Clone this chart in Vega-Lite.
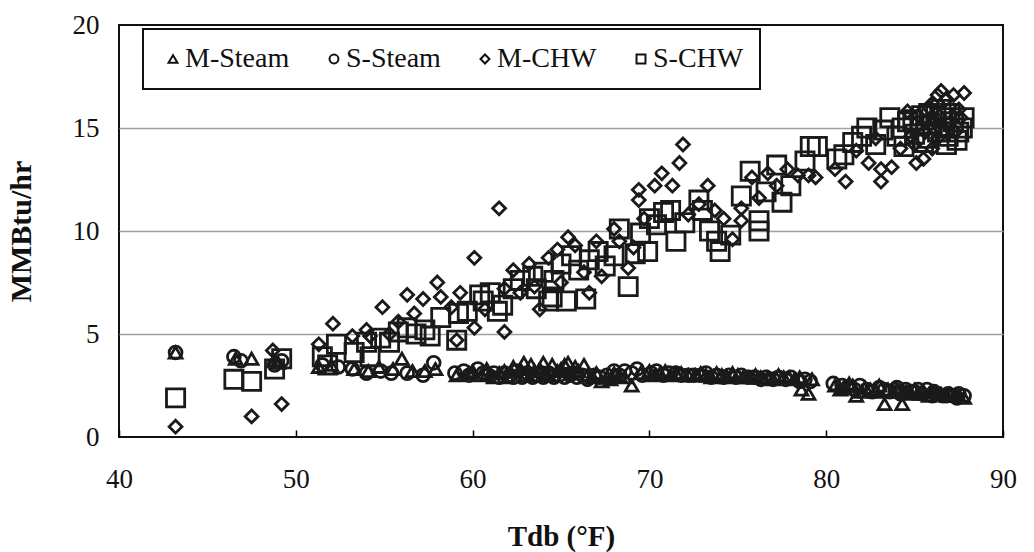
{
  "$schema": "https://vega.github.io/schema/vega-lite/v6.json",
  "width": 884,
  "height": 412,
  "autosize": "none",
  "padding": {"left": 119, "top": 25, "right": 31, "bottom": 115},
  "background": "white",
  "data": {
    "values": [
      {"series":"M-Steam","T":43.2,"Q":4.1},{"series":"M-Steam","T":46.6,"Q":3.8},{"series":"M-Steam","T":47.5,"Q":3.8},{"series":"M-Steam","T":48.8,"Q":3.7},{"series":"M-Steam","T":49.0,"Q":3.6},{"series":"M-Steam","T":51.3,"Q":3.4},{"series":"M-Steam","T":52.0,"Q":3.5},{"series":"M-Steam","T":53.3,"Q":3.3},{"series":"M-Steam","T":54.1,"Q":3.2},{"series":"M-Steam","T":54.7,"Q":3.4},{"series":"M-Steam","T":55.5,"Q":3.3},{"series":"M-Steam","T":56.0,"Q":3.8},{"series":"M-Steam","T":56.6,"Q":3.2},{"series":"M-Steam","T":57.3,"Q":3.2},{"series":"M-Steam","T":57.9,"Q":3.3},{"series":"M-Steam","T":59.1,"Q":3.0},{"series":"M-Steam","T":59.8,"Q":3.1},{"series":"M-Steam","T":60.0,"Q":3.2},{"series":"M-Steam","T":60.5,"Q":3.0},{"series":"M-Steam","T":60.8,"Q":3.3},{"series":"M-Steam","T":61.2,"Q":2.9},{"series":"M-Steam","T":61.5,"Q":3.1},{"series":"M-Steam","T":61.8,"Q":3.2},{"series":"M-Steam","T":62.0,"Q":2.9},{"series":"M-Steam","T":62.3,"Q":3.4},{"series":"M-Steam","T":62.7,"Q":3.3},{"series":"M-Steam","T":62.9,"Q":3.6},{"series":"M-Steam","T":63.0,"Q":3.0},{"series":"M-Steam","T":63.3,"Q":3.5},{"series":"M-Steam","T":63.5,"Q":3.2},{"series":"M-Steam","T":63.8,"Q":3.3},{"series":"M-Steam","T":64.0,"Q":3.6},{"series":"M-Steam","T":64.2,"Q":3.0},{"series":"M-Steam","T":64.5,"Q":3.5},{"series":"M-Steam","T":64.8,"Q":3.2},{"series":"M-Steam","T":65.0,"Q":3.3},{"series":"M-Steam","T":65.2,"Q":3.5},{"series":"M-Steam","T":65.4,"Q":3.6},{"series":"M-Steam","T":65.6,"Q":3.1},{"series":"M-Steam","T":65.8,"Q":3.4},{"series":"M-Steam","T":66.0,"Q":3.2},{"series":"M-Steam","T":66.3,"Q":3.5},{"series":"M-Steam","T":66.5,"Q":3.0},{"series":"M-Steam","T":66.8,"Q":2.9},{"series":"M-Steam","T":67.0,"Q":3.1},{"series":"M-Steam","T":67.3,"Q":2.7},{"series":"M-Steam","T":67.6,"Q":2.9},{"series":"M-Steam","T":67.8,"Q":2.8},{"series":"M-Steam","T":68.0,"Q":3.1},{"series":"M-Steam","T":68.3,"Q":3.0},{"series":"M-Steam","T":68.6,"Q":2.9},{"series":"M-Steam","T":69.0,"Q":2.5},{"series":"M-Steam","T":69.5,"Q":3.1},{"series":"M-Steam","T":70.0,"Q":3.2},{"series":"M-Steam","T":70.3,"Q":3.0},{"series":"M-Steam","T":70.6,"Q":3.1},{"series":"M-Steam","T":70.9,"Q":3.2},{"series":"M-Steam","T":71.2,"Q":3.0},{"series":"M-Steam","T":71.5,"Q":3.1},{"series":"M-Steam","T":71.8,"Q":3.1},{"series":"M-Steam","T":72.2,"Q":3.0},{"series":"M-Steam","T":72.6,"Q":3.0},{"series":"M-Steam","T":72.9,"Q":3.1},{"series":"M-Steam","T":73.2,"Q":3.0},{"series":"M-Steam","T":73.5,"Q":2.9},{"series":"M-Steam","T":73.8,"Q":3.1},{"series":"M-Steam","T":74.1,"Q":3.0},{"series":"M-Steam","T":74.4,"Q":2.9},{"series":"M-Steam","T":74.7,"Q":3.1},{"series":"M-Steam","T":75.0,"Q":3.0},{"series":"M-Steam","T":75.3,"Q":2.9},{"series":"M-Steam","T":75.6,"Q":2.9},{"series":"M-Steam","T":76.0,"Q":3.0},{"series":"M-Steam","T":76.3,"Q":2.9},{"series":"M-Steam","T":76.7,"Q":2.9},{"series":"M-Steam","T":77.0,"Q":2.8},{"series":"M-Steam","T":77.3,"Q":3.0},{"series":"M-Steam","T":77.6,"Q":2.9},{"series":"M-Steam","T":77.9,"Q":2.9},{"series":"M-Steam","T":78.2,"Q":2.8},{"series":"M-Steam","T":78.5,"Q":2.9},{"series":"M-Steam","T":78.6,"Q":2.3},{"series":"M-Steam","T":79.0,"Q":2.1},{"series":"M-Steam","T":79.2,"Q":2.8},{"series":"M-Steam","T":80.5,"Q":2.5},{"series":"M-Steam","T":80.8,"Q":2.3},{"series":"M-Steam","T":81.0,"Q":2.4},{"series":"M-Steam","T":81.3,"Q":2.6},{"series":"M-Steam","T":81.5,"Q":2.5},{"series":"M-Steam","T":81.7,"Q":2.0},{"series":"M-Steam","T":82.0,"Q":2.2},{"series":"M-Steam","T":82.2,"Q":2.4},{"series":"M-Steam","T":82.5,"Q":2.3},{"series":"M-Steam","T":82.8,"Q":2.2},{"series":"M-Steam","T":83.0,"Q":2.5},{"series":"M-Steam","T":83.3,"Q":1.6},{"series":"M-Steam","T":83.5,"Q":2.3},{"series":"M-Steam","T":83.8,"Q":2.2},{"series":"M-Steam","T":84.0,"Q":2.3},{"series":"M-Steam","T":84.3,"Q":1.6},{"series":"M-Steam","T":84.5,"Q":2.2},{"series":"M-Steam","T":84.8,"Q":2.1},{"series":"M-Steam","T":85.0,"Q":2.3},{"series":"M-Steam","T":85.3,"Q":2.1},{"series":"M-Steam","T":85.5,"Q":2.2},{"series":"M-Steam","T":85.8,"Q":2.0},{"series":"M-Steam","T":86.0,"Q":2.2},{"series":"M-Steam","T":86.3,"Q":2.1},{"series":"M-Steam","T":86.5,"Q":2.1},{"series":"M-Steam","T":86.8,"Q":2.0},{"series":"M-Steam","T":87.0,"Q":2.1},{"series":"M-Steam","T":87.3,"Q":2.0},{"series":"M-Steam","T":87.5,"Q":2.0},{"series":"M-Steam","T":87.8,"Q":1.9},
      {"series":"S-Steam","T":43.2,"Q":4.1},{"series":"S-Steam","T":46.5,"Q":3.9},{"series":"S-Steam","T":46.9,"Q":3.7},{"series":"S-Steam","T":48.8,"Q":3.5},{"series":"S-Steam","T":49.2,"Q":3.7},{"series":"S-Steam","T":51.5,"Q":3.5},{"series":"S-Steam","T":52.4,"Q":3.4},{"series":"S-Steam","T":53.2,"Q":3.3},{"series":"S-Steam","T":54.0,"Q":3.1},{"series":"S-Steam","T":54.8,"Q":3.2},{"series":"S-Steam","T":55.4,"Q":3.1},{"series":"S-Steam","T":56.3,"Q":3.1},{"series":"S-Steam","T":57.2,"Q":3.0},{"series":"S-Steam","T":57.8,"Q":3.6},{"series":"S-Steam","T":59.0,"Q":3.1},{"series":"S-Steam","T":59.5,"Q":3.2},{"series":"S-Steam","T":59.8,"Q":3.0},{"series":"S-Steam","T":60.3,"Q":3.3},{"series":"S-Steam","T":60.6,"Q":3.1},{"series":"S-Steam","T":60.9,"Q":3.0},{"series":"S-Steam","T":61.2,"Q":3.1},{"series":"S-Steam","T":61.5,"Q":2.9},{"series":"S-Steam","T":61.8,"Q":3.1},{"series":"S-Steam","T":62.1,"Q":3.0},{"series":"S-Steam","T":62.3,"Q":2.9},{"series":"S-Steam","T":62.5,"Q":3.2},{"series":"S-Steam","T":62.8,"Q":2.9},{"series":"S-Steam","T":63.1,"Q":3.1},{"series":"S-Steam","T":63.4,"Q":2.9},{"series":"S-Steam","T":63.7,"Q":3.0},{"series":"S-Steam","T":63.9,"Q":3.1},{"series":"S-Steam","T":64.0,"Q":2.9},{"series":"S-Steam","T":64.3,"Q":3.1},{"series":"S-Steam","T":64.6,"Q":2.9},{"series":"S-Steam","T":64.9,"Q":3.0},{"series":"S-Steam","T":65.2,"Q":2.9},{"series":"S-Steam","T":65.5,"Q":3.0},{"series":"S-Steam","T":65.7,"Q":3.1},{"series":"S-Steam","T":65.9,"Q":2.9},{"series":"S-Steam","T":66.2,"Q":3.0},{"series":"S-Steam","T":66.5,"Q":2.8},{"series":"S-Steam","T":66.9,"Q":3.0},{"series":"S-Steam","T":67.2,"Q":2.9},{"series":"S-Steam","T":67.6,"Q":3.0},{"series":"S-Steam","T":68.0,"Q":3.2},{"series":"S-Steam","T":68.3,"Q":3.0},{"series":"S-Steam","T":68.6,"Q":3.2},{"series":"S-Steam","T":69.0,"Q":3.1},{"series":"S-Steam","T":69.3,"Q":3.3},{"series":"S-Steam","T":69.6,"Q":3.0},{"series":"S-Steam","T":70.1,"Q":3.1},{"series":"S-Steam","T":70.4,"Q":3.2},{"series":"S-Steam","T":70.8,"Q":3.0},{"series":"S-Steam","T":71.1,"Q":3.1},{"series":"S-Steam","T":71.5,"Q":3.1},{"series":"S-Steam","T":71.8,"Q":3.0},{"series":"S-Steam","T":72.2,"Q":3.0},{"series":"S-Steam","T":72.5,"Q":3.0},{"series":"S-Steam","T":72.9,"Q":3.0},{"series":"S-Steam","T":73.2,"Q":3.1},{"series":"S-Steam","T":73.5,"Q":2.9},{"series":"S-Steam","T":73.8,"Q":3.0},{"series":"S-Steam","T":74.2,"Q":2.9},{"series":"S-Steam","T":74.5,"Q":3.0},{"series":"S-Steam","T":74.9,"Q":2.9},{"series":"S-Steam","T":75.2,"Q":3.0},{"series":"S-Steam","T":75.6,"Q":2.9},{"series":"S-Steam","T":75.9,"Q":2.9},{"series":"S-Steam","T":76.0,"Q":2.9},{"series":"S-Steam","T":76.3,"Q":2.8},{"series":"S-Steam","T":76.6,"Q":2.9},{"series":"S-Steam","T":77.0,"Q":2.8},{"series":"S-Steam","T":77.3,"Q":2.9},{"series":"S-Steam","T":77.7,"Q":2.8},{"series":"S-Steam","T":78.0,"Q":2.9},{"series":"S-Steam","T":78.5,"Q":2.7},{"series":"S-Steam","T":78.8,"Q":2.8},{"series":"S-Steam","T":79.1,"Q":2.7},{"series":"S-Steam","T":80.4,"Q":2.6},{"series":"S-Steam","T":80.9,"Q":2.5},{"series":"S-Steam","T":81.2,"Q":2.4},{"series":"S-Steam","T":81.6,"Q":2.3},{"series":"S-Steam","T":81.9,"Q":2.5},{"series":"S-Steam","T":82.3,"Q":2.3},{"series":"S-Steam","T":82.6,"Q":2.2},{"series":"S-Steam","T":83.0,"Q":2.4},{"series":"S-Steam","T":83.3,"Q":2.3},{"series":"S-Steam","T":83.6,"Q":2.2},{"series":"S-Steam","T":83.9,"Q":2.3},{"series":"S-Steam","T":84.0,"Q":2.4},{"series":"S-Steam","T":84.2,"Q":2.1},{"series":"S-Steam","T":84.5,"Q":2.3},{"series":"S-Steam","T":84.8,"Q":2.2},{"series":"S-Steam","T":85.0,"Q":2.2},{"series":"S-Steam","T":85.2,"Q":2.3},{"series":"S-Steam","T":85.4,"Q":2.1},{"series":"S-Steam","T":85.7,"Q":2.3},{"series":"S-Steam","T":86.0,"Q":2.0},{"series":"S-Steam","T":86.1,"Q":2.2},{"series":"S-Steam","T":86.3,"Q":2.1},{"series":"S-Steam","T":86.6,"Q":2.0},{"series":"S-Steam","T":86.8,"Q":2.0},{"series":"S-Steam","T":86.9,"Q":2.1},{"series":"S-Steam","T":87.2,"Q":2.0},{"series":"S-Steam","T":87.4,"Q":1.9},{"series":"S-Steam","T":87.5,"Q":2.1},{"series":"S-Steam","T":87.8,"Q":2.0},
      {"series":"M-CHW","T":43.2,"Q":0.5},{"series":"M-CHW","T":47.5,"Q":1.0},{"series":"M-CHW","T":48.7,"Q":4.2},{"series":"M-CHW","T":49.2,"Q":1.6},{"series":"M-CHW","T":51.3,"Q":4.5},{"series":"M-CHW","T":52.1,"Q":5.5},{"series":"M-CHW","T":53.2,"Q":4.9},{"series":"M-CHW","T":54.0,"Q":5.2},{"series":"M-CHW","T":54.2,"Q":4.9},{"series":"M-CHW","T":54.9,"Q":6.3},{"series":"M-CHW","T":55.3,"Q":5.0},{"series":"M-CHW","T":55.8,"Q":5.6},{"series":"M-CHW","T":56.3,"Q":6.9},{"series":"M-CHW","T":56.7,"Q":6.0},{"series":"M-CHW","T":57.2,"Q":6.7},{"series":"M-CHW","T":58.0,"Q":7.5},{"series":"M-CHW","T":58.2,"Q":6.8},{"series":"M-CHW","T":58.8,"Q":6.3},{"series":"M-CHW","T":59.1,"Q":4.7},{"series":"M-CHW","T":59.3,"Q":7.0},{"series":"M-CHW","T":60.1,"Q":8.7},{"series":"M-CHW","T":60.1,"Q":5.3},{"series":"M-CHW","T":60.7,"Q":6.2},{"series":"M-CHW","T":61.5,"Q":11.1},{"series":"M-CHW","T":61.8,"Q":5.1},{"series":"M-CHW","T":61.8,"Q":7.2},{"series":"M-CHW","T":62.3,"Q":8.1},{"series":"M-CHW","T":62.7,"Q":7.0},{"series":"M-CHW","T":63.2,"Q":8.4},{"series":"M-CHW","T":63.5,"Q":7.3},{"series":"M-CHW","T":63.8,"Q":6.2},{"series":"M-CHW","T":64.3,"Q":8.7},{"series":"M-CHW","T":64.8,"Q":9.1},{"series":"M-CHW","T":65.0,"Q":7.5},{"series":"M-CHW","T":65.4,"Q":9.7},{"series":"M-CHW","T":65.8,"Q":9.3},{"series":"M-CHW","T":66.3,"Q":8.0},{"series":"M-CHW","T":66.6,"Q":7.0},{"series":"M-CHW","T":67.0,"Q":9.5},{"series":"M-CHW","T":67.3,"Q":7.8},{"series":"M-CHW","T":68.0,"Q":10.1},{"series":"M-CHW","T":68.3,"Q":9.5},{"series":"M-CHW","T":68.8,"Q":8.2},{"series":"M-CHW","T":69.1,"Q":9.2},{"series":"M-CHW","T":69.4,"Q":12.0},{"series":"M-CHW","T":69.4,"Q":11.5},{"series":"M-CHW","T":69.7,"Q":10.6},{"series":"M-CHW","T":70.3,"Q":12.2},{"series":"M-CHW","T":70.7,"Q":12.8},{"series":"M-CHW","T":71.3,"Q":12.2},{"series":"M-CHW","T":71.7,"Q":13.3},{"series":"M-CHW","T":71.9,"Q":14.2},{"series":"M-CHW","T":72.2,"Q":10.8},{"series":"M-CHW","T":72.8,"Q":11.3},{"series":"M-CHW","T":73.3,"Q":12.2},{"series":"M-CHW","T":73.7,"Q":11.0},{"series":"M-CHW","T":74.2,"Q":10.6},{"series":"M-CHW","T":74.7,"Q":9.6},{"series":"M-CHW","T":75.2,"Q":11.1},{"series":"M-CHW","T":75.2,"Q":10.5},{"series":"M-CHW","T":75.8,"Q":12.6},{"series":"M-CHW","T":76.2,"Q":11.6},{"series":"M-CHW","T":76.7,"Q":12.8},{"series":"M-CHW","T":77.2,"Q":12.2},{"series":"M-CHW","T":77.8,"Q":13.0},{"series":"M-CHW","T":78.4,"Q":12.7},{"series":"M-CHW","T":79.0,"Q":12.7},{"series":"M-CHW","T":79.4,"Q":12.6},{"series":"M-CHW","T":80.5,"Q":13.0},{"series":"M-CHW","T":81.1,"Q":12.4},{"series":"M-CHW","T":81.7,"Q":13.9},{"series":"M-CHW","T":82.4,"Q":13.3},{"series":"M-CHW","T":82.8,"Q":14.5},{"series":"M-CHW","T":83.1,"Q":13.0},{"series":"M-CHW","T":83.1,"Q":12.4},{"series":"M-CHW","T":83.7,"Q":13.1},{"series":"M-CHW","T":84.2,"Q":14.0},{"series":"M-CHW","T":84.6,"Q":15.8},{"series":"M-CHW","T":84.8,"Q":14.6},{"series":"M-CHW","T":85.0,"Q":14.2},{"series":"M-CHW","T":85.1,"Q":13.3},{"series":"M-CHW","T":85.2,"Q":15.6},{"series":"M-CHW","T":85.5,"Q":13.5},{"series":"M-CHW","T":85.6,"Q":14.8},{"series":"M-CHW","T":85.8,"Q":16.0},{"series":"M-CHW","T":86.0,"Q":14.0},{"series":"M-CHW","T":86.0,"Q":16.2},{"series":"M-CHW","T":86.1,"Q":15.3},{"series":"M-CHW","T":86.3,"Q":14.5},{"series":"M-CHW","T":86.3,"Q":16.6},{"series":"M-CHW","T":86.4,"Q":15.6},{"series":"M-CHW","T":86.5,"Q":16.8},{"series":"M-CHW","T":86.8,"Q":16.4},{"series":"M-CHW","T":86.9,"Q":15.2},{"series":"M-CHW","T":87.2,"Q":16.6},{"series":"M-CHW","T":87.3,"Q":14.8},{"series":"M-CHW","T":87.5,"Q":15.9},{"series":"M-CHW","T":87.6,"Q":15.5},{"series":"M-CHW","T":87.8,"Q":16.7},
      {"series":"S-CHW","T":43.2,"Q":1.9},{"series":"S-CHW","T":46.5,"Q":2.8},{"series":"S-CHW","T":47.5,"Q":2.7},{"series":"S-CHW","T":48.8,"Q":3.3},{"series":"S-CHW","T":49.2,"Q":3.8},{"series":"S-CHW","T":51.5,"Q":3.9},{"series":"S-CHW","T":51.8,"Q":3.5},{"series":"S-CHW","T":52.3,"Q":4.5},{"series":"S-CHW","T":53.3,"Q":4.1},{"series":"S-CHW","T":54.0,"Q":4.6},{"series":"S-CHW","T":54.2,"Q":3.9},{"series":"S-CHW","T":54.8,"Q":4.8},{"series":"S-CHW","T":55.3,"Q":4.6},{"series":"S-CHW","T":55.8,"Q":5.1},{"series":"S-CHW","T":56.3,"Q":5.3},{"series":"S-CHW","T":56.8,"Q":5.0},{"series":"S-CHW","T":57.3,"Q":5.2},{"series":"S-CHW","T":57.6,"Q":4.9},{"series":"S-CHW","T":58.2,"Q":5.8},{"series":"S-CHW","T":59.1,"Q":4.7},{"series":"S-CHW","T":59.2,"Q":6.0},{"series":"S-CHW","T":59.7,"Q":6.1},{"series":"S-CHW","T":60.4,"Q":6.9},{"series":"S-CHW","T":60.6,"Q":6.6},{"series":"S-CHW","T":61.0,"Q":7.0},{"series":"S-CHW","T":61.4,"Q":6.1},{"series":"S-CHW","T":61.7,"Q":6.4},{"series":"S-CHW","T":62.3,"Q":7.2},{"series":"S-CHW","T":62.7,"Q":7.6},{"series":"S-CHW","T":63.4,"Q":7.8},{"series":"S-CHW","T":63.6,"Q":7.2},{"series":"S-CHW","T":64.0,"Q":8.0},{"series":"S-CHW","T":64.3,"Q":6.6},{"series":"S-CHW","T":64.5,"Q":6.8},{"series":"S-CHW","T":64.6,"Q":7.6},{"series":"S-CHW","T":65.0,"Q":8.4},{"series":"S-CHW","T":65.3,"Q":6.6},{"series":"S-CHW","T":65.6,"Q":8.8},{"series":"S-CHW","T":66.0,"Q":8.1},{"series":"S-CHW","T":66.4,"Q":6.7},{"series":"S-CHW","T":66.6,"Q":8.6},{"series":"S-CHW","T":67.1,"Q":9.0},{"series":"S-CHW","T":67.5,"Q":8.3},{"series":"S-CHW","T":68.0,"Q":8.8},{"series":"S-CHW","T":68.3,"Q":10.1},{"series":"S-CHW","T":68.8,"Q":7.3},{"series":"S-CHW","T":69.2,"Q":8.9},{"series":"S-CHW","T":69.5,"Q":9.9},{"series":"S-CHW","T":69.9,"Q":9.0},{"series":"S-CHW","T":70.0,"Q":10.6},{"series":"S-CHW","T":70.4,"Q":10.3},{"series":"S-CHW","T":70.8,"Q":10.9},{"series":"S-CHW","T":71.2,"Q":11.0},{"series":"S-CHW","T":71.5,"Q":9.5},{"series":"S-CHW","T":72.0,"Q":10.4},{"series":"S-CHW","T":72.8,"Q":11.5},{"series":"S-CHW","T":73.0,"Q":11.0},{"series":"S-CHW","T":73.4,"Q":10.0},{"series":"S-CHW","T":73.8,"Q":9.5},{"series":"S-CHW","T":74.0,"Q":9.0},{"series":"S-CHW","T":74.6,"Q":9.8},{"series":"S-CHW","T":75.2,"Q":11.7},{"series":"S-CHW","T":75.7,"Q":12.9},{"series":"S-CHW","T":76.2,"Q":10.0},{"series":"S-CHW","T":76.2,"Q":10.5},{"series":"S-CHW","T":76.6,"Q":11.9},{"series":"S-CHW","T":77.2,"Q":13.2},{"series":"S-CHW","T":77.5,"Q":11.4},{"series":"S-CHW","T":78.0,"Q":12.2},{"series":"S-CHW","T":78.8,"Q":13.4},{"series":"S-CHW","T":79.1,"Q":14.1},{"series":"S-CHW","T":79.5,"Q":14.1},{"series":"S-CHW","T":80.6,"Q":13.5},{"series":"S-CHW","T":81.0,"Q":13.7},{"series":"S-CHW","T":81.5,"Q":14.3},{"series":"S-CHW","T":82.0,"Q":14.6},{"series":"S-CHW","T":82.3,"Q":15.0},{"series":"S-CHW","T":82.8,"Q":14.2},{"series":"S-CHW","T":83.2,"Q":14.9},{"series":"S-CHW","T":83.6,"Q":15.5},{"series":"S-CHW","T":84.0,"Q":14.6},{"series":"S-CHW","T":84.3,"Q":15.0},{"series":"S-CHW","T":84.4,"Q":14.1},{"series":"S-CHW","T":84.6,"Q":15.3},{"series":"S-CHW","T":84.9,"Q":15.4},{"series":"S-CHW","T":85.0,"Q":14.7},{"series":"S-CHW","T":85.3,"Q":15.1},{"series":"S-CHW","T":85.4,"Q":15.6},{"series":"S-CHW","T":85.5,"Q":14.3},{"series":"S-CHW","T":85.7,"Q":14.5},{"series":"S-CHW","T":85.8,"Q":15.7},{"series":"S-CHW","T":86.0,"Q":15.2},{"series":"S-CHW","T":86.2,"Q":15.6},{"series":"S-CHW","T":86.3,"Q":14.8},{"series":"S-CHW","T":86.5,"Q":15.9},{"series":"S-CHW","T":86.6,"Q":15.5},{"series":"S-CHW","T":86.7,"Q":15.0},{"series":"S-CHW","T":86.8,"Q":14.2},{"series":"S-CHW","T":86.9,"Q":14.6},{"series":"S-CHW","T":87.0,"Q":15.7},{"series":"S-CHW","T":87.2,"Q":15.3},{"series":"S-CHW","T":87.4,"Q":14.4},{"series":"S-CHW","T":87.5,"Q":14.8},{"series":"S-CHW","T":87.7,"Q":15.0},{"series":"S-CHW","T":87.8,"Q":15.5}
    ]
  },
  "mark": {"type": "point", "filled": false, "strokeWidth": 2.8, "opacity": 1, "clip": true},
  "encoding": {
    "x": {
      "field": "T", "type": "quantitative",
      "scale": {"domain": [40, 90], "nice": false, "zero": false},
      "axis": {
        "title": "Tdb (°F)",
        "values": [40, 50, 60, 70, 80, 90],
        "grid": false, "domain": false, "labelFlush": false,
        "ticks": true, "tickSize": -7, "tickColor": "#000", "tickWidth": 1.5,
        "labelPadding": 36, "titlePadding": 30, "titleFontSize": 29
      }
    },
    "y": {
      "field": "Q", "type": "quantitative",
      "scale": {"domain": [0, 20], "nice": false},
      "axis": {
        "title": "MMBtu/hr",
        "values": [0, 5, 10, 15, 20],
        "grid": true, "labelFlush": false,
        "gridColor": "#a0a0a0",
        "gridWidth": 1.5,
        "gridOpacity": {"condition": {"test": "datum.value == 0 || datum.value == 20", "value": 0}, "value": 1},
        "ticks": false, "domain": false,
        "labelPadding": 20, "titlePadding": 36, "titleFontSize": 30
      }
    },
    "shape": {
      "field": "series", "type": "nominal",
      "scale": {"domain": ["M-Steam", "S-Steam", "M-CHW", "S-CHW"], "range": ["triangle-up", "circle", "diamond", "square"]},
      "legend": {"title": null}
    },
    "size": {
      "condition": {"test": "datum.series == 'S-CHW'", "value": 330},
      "value": 165
    },
    "color": {"value": "#1a1a1a"}
  },
  "config": {
    "font": "Liberation Serif",
    "view": {"stroke": "#111", "strokeWidth": 2},
    "axis": {
      "labelFont": "Liberation Serif", "labelFontSize": 27, "labelColor": "#111",
      "titleFont": "Liberation Serif", "titleFontSize": 27, "titleFontWeight": "bold", "titleColor": "#111"
    },
    "legend": {
      "orient": "none",
      "legendX": 24,
      "legendY": 4,
      "direction": "horizontal",
      "columns": 4,
      "padding": 16,
      "fillColor": "white",
      "strokeColor": "#111",
      "strokeWidth": 2,
      "labelFont": "Liberation Serif",
      "labelFontSize": 28,
      "labelColor": "#111",
      "labelOffset": -2,
      "columnPadding": 30,
      "symbolSize": 80,
      "symbolStrokeWidth": 2,
      "symbolStrokeColor": "#111",
      "symbolFillColor": "transparent"
    }
  }
}
